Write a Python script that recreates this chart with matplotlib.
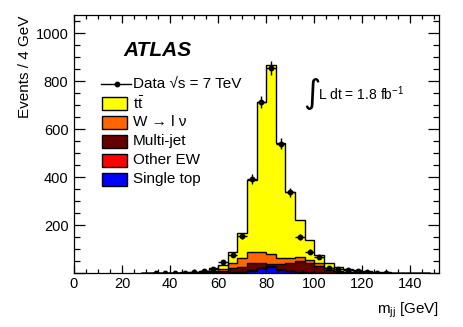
import numpy as np
import matplotlib
matplotlib.use("Agg")
import matplotlib.pyplot as plt
from matplotlib.patches import Rectangle
from matplotlib.lines import Line2D
from matplotlib.ticker import MultipleLocator

plt.rcParams["font.family"] = ["Liberation Sans", "DejaVu Sans"]
plt.rcParams["mathtext.fontset"] = "custom"
plt.rcParams["mathtext.rm"] = "Liberation Sans"
plt.rcParams["mathtext.it"] = "Liberation Sans:italic"

# 4 GeV bins, low edges of the populated range
bin_low = [28, 32, 36, 40, 44, 48, 52, 56, 60, 64, 68, 72, 76, 80, 84,
           88, 92, 96, 100, 104, 108, 112, 116, 120, 124, 128, 132, 136, 140, 144]
bin_width = 4

# stacked MC, bottom to top
single_top = [0, 0, 0, 0, 0, 0, 0, 1, 2, 3, 5, 10, 21, 28, 14,
              8, 5, 3, 2, 1, 1, 0.5, 0.3, 0, 0, 0, 0, 0, 0, 0]
other_ew = [0, 0, 0, 0, 0, 0, 0, 0.5, 1, 2, 2, 2, 2, 2, 2,
            2, 1, 1, 1, 1, 0.5, 0.5, 0.2, 0, 0, 0, 0, 0, 0, 0]
multijet = [0.3, 0.5, 0.5, 1, 1, 1.5, 2.5, 3.5, 7, 16, 21, 30, 19, 8, 22,
            35, 46, 40, 27, 13, 5.5, 3, 2.5, 2, 1, 1, 0.5, 0.3, 0, 0]
w_jets = [0.2, 0.5, 0.5, 0.5, 1, 1.5, 2.5, 5, 8, 21, 34, 48, 48, 42, 24,
          20, 15, 11, 12, 7, 4, 3, 2, 1, 1, 0.5, 0.5, 0.2, 0.5, 0.3]
ttbar = [0.5, 1, 1, 1.5, 2, 3, 5, 12, 17, 47, 107, 299, 625, 788, 480,
         272, 157, 84, 34, 20, 17, 10, 7, 5, 4, 2.5, 2, 1.5, 0.5, 0.7]

data_x = [34, 38, 42, 46, 50, 54, 58, 62, 66, 70, 74, 78, 82, 86, 90,
          94, 98, 102, 106, 110, 114, 118, 122, 126, 130]
data_y = [2, 1, 3, 2, 4, 10, 18, 48, 75, 155, 393, 714, 855, 540, 338,
          152, 90, 69, 21, 18, 14, 10, 5, 3, 2]

samples = [single_top, other_ew, multijet, w_jets, ttbar]
colors = ["#0000ff", "#ff0000", "#660000", "#ff6600", "#ffff00"]
legend_labels = [r"$\mathrm{t\bar{t}}$", "W → l ν", "Multi-jet", "Other EW", "Single top"]
legend_colors = ["#ffff00", "#ff6600", "#660000", "#ff0000", "#0000ff"]

fig = plt.figure(figsize=(4.63, 3.27), dpi=100)
ax = fig.add_axes([74 / 463, 1 - 273.3 / 327, 365.3 / 463, 258 / 327])

edges = np.append(bin_low, bin_low[-1] + bin_width)
base = np.zeros(len(bin_low))
for vals, col in zip(samples, colors):
    top = base + np.array(vals)
    ax.stairs(top, edges, baseline=base, fill=True, color=col, lw=0)
    base = top
base = np.zeros(len(bin_low))
for vals in samples:
    base = base + np.array(vals)
    ax.stairs(base, edges, baseline=None, color="black", lw=1.0)

ax.errorbar(data_x, data_y, yerr=np.sqrt(data_y), xerr=bin_width / 2,
            fmt="o", ms=3.2, color="black", elinewidth=1.0, capsize=0, zorder=5)

ax.set_xlim(0, 152)
ax.set_ylim(0, 1075)
ax.xaxis.set_major_locator(MultipleLocator(20))
ax.xaxis.set_minor_locator(MultipleLocator(5))
ax.yaxis.set_major_locator(MultipleLocator(200))
ax.yaxis.set_minor_locator(MultipleLocator(50))
ax.set_yticks([0, 200, 400, 600, 800, 1000], ["", "200", "400", "600", "800", "1000"])
ax.tick_params(axis="both", which="both", direction="in", top=True, right=True,
               labelsize=10.5, width=0.9)
ax.tick_params(axis="y", which="major", length=8, pad=4)
ax.tick_params(axis="y", which="minor", length=4)
ax.tick_params(axis="x", which="major", length=5.5, pad=3)
ax.tick_params(axis="x", which="minor", length=2.7)
for sp in ax.spines.values():
    sp.set_linewidth(0.9)

ax.set_ylabel("Events / 4 GeV", loc="top", fontsize=11)
ax.yaxis.set_label_coords(-0.115, 1.0)
ax.set_xlabel(r"m$_{\rm jj}$ [GeV]", loc="right", fontsize=11)
ax.xaxis.set_label_coords(1.0, -0.105)

ax.text(0.135, 0.865, "ATLAS", transform=ax.transAxes, fontsize=15,
        fontweight="bold", fontstyle="italic", va="center")
ax.text(0.628, 0.698, "∫", transform=ax.transAxes, fontsize=24, va="center",
        family="DejaVu Sans")
ax.text(0.668, 0.695, r"L dt = 1.8 fb$^{-1}$", transform=ax.transAxes, fontsize=10,
        va="center")

# legend
lx, lw_, lh = (102 - 74) / 365.3, 25 / 365.3, 13 / 258
ly0 = (273.3 - 84.3) / 258
step = 19 / 258
ax.add_line(Line2D([lx - 0.003, lx + 0.08], [ly0, ly0], color="black", lw=1,
                   transform=ax.transAxes))
ax.plot([lx + 0.04], [ly0], "o", ms=3.2, color="black", transform=ax.transAxes)
ax.text(0.1615, ly0, "Data √s = 7 TeV", transform=ax.transAxes, fontsize=11, va="center")
for i, (lab, col) in enumerate(zip(legend_labels, legend_colors)):
    yc = ly0 - step * (i + 1)
    ax.add_patch(Rectangle((lx, yc - lh / 2), lw_, lh, transform=ax.transAxes,
                           facecolor=col, edgecolor="black", lw=1))
    ax.text(0.1615, yc, lab, transform=ax.transAxes, fontsize=11, va="center")

fig.savefig("out.png", dpi=100)
